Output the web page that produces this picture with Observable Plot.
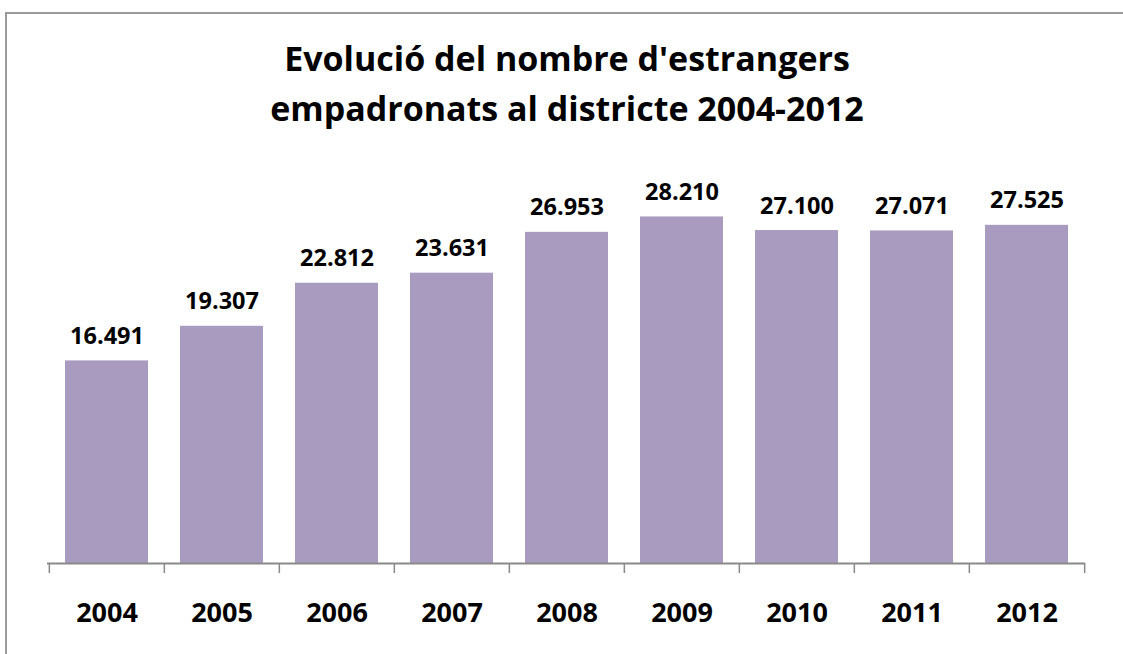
<!DOCTYPE html>
<html>
<head>
<meta charset="utf-8">
<script src="https://cdn.jsdelivr.net/npm/d3@7"></script>
<script src="https://cdn.jsdelivr.net/npm/@observablehq/plot@0.6"></script>
<style>
  html, body { margin: 0; padding: 0; background: #fff; overflow: hidden; }
  body { width: 1123px; height: 654px; position: relative; font-family: "Open Sans", sans-serif; }
  #frame { position: absolute; left: 5px; top: 12px; width: 1200px; height: 700px; border-top: 2px solid #9a9a9a; border-left: 2px solid #9a9a9a; box-sizing: border-box; }
  #title { position: absolute; left: 0; width: 1134px; top: 33px; text-align: center; font-size: 34px; line-height: 50px; font-weight: bold; color: #000; margin: 0; }
  #chart { position: absolute; left: 0; top: 0; }
</style>
</head>
<body>
<div id="frame"></div>
<div id="title">Evolució del nombre d'estrangers<br>empadronats al districte 2004-2012</div>
<div id="chart"></div>
<script>
const years = ["2004", "2005", "2006", "2007", "2008", "2009", "2010", "2011", "2012"];
const values = [16491, 19307, 22812, 23631, 26953, 28210, 27100, 27071, 27525];

const data = years.map((year, i) => ({year, value: values[i]}));
const locale = d3.formatLocale({decimal: ",", thousands: ".", grouping: [3], currency: ["", "€"]});
const fmt = locale.format(",d");

const W = 1123, H = 654, ML = 47, MR = 38, MT = 133, MB = 91;
const PI = 0.28, PO = 0.14;
const step = (W - ML - MR) / (years.length - PI + 2 * PO);
const axisColor = "#898989";

const chart = Plot.plot({
  width: W, height: H,
  marginLeft: ML, marginRight: MR, marginTop: MT, marginBottom: MB,
  x: {domain: years, paddingInner: PI, paddingOuter: PO, axis: null, label: null},
  y: {domain: [0, 35000], axis: null},
  style: {background: "transparent", fontFamily: "'Open Sans', sans-serif", color: "#000"},
  marks: [
    Plot.barY(data, {x: "year", y: "value", fill: "#a99bc0"}),
    Plot.ruleY([0], {stroke: axisColor, strokeWidth: 2}),
    Plot.axisX({tickSize: 10, tickFormat: () => "", label: null, dx: -step / 2, stroke: axisColor, strokeWidth: 1.5}),
    Plot.axisX({ticks: [years[years.length - 1]], tickSize: 10, tickFormat: () => "", label: null, dx: step / 2, stroke: axisColor, strokeWidth: 1.5}),
    Plot.axisX({tickSize: 0, tickPadding: 39, label: null, fontSize: 27, fontWeight: "bold", fill: "#000"}),
    Plot.text(data, {x: "year", y: "value", text: d => fmt(d.value), lineAnchor: "bottom", dy: -17, fontSize: 23.5, fontWeight: "bold", fill: "#000"})
  ]
});
document.getElementById("chart").appendChild(chart);
</script>
</body>
</html>
